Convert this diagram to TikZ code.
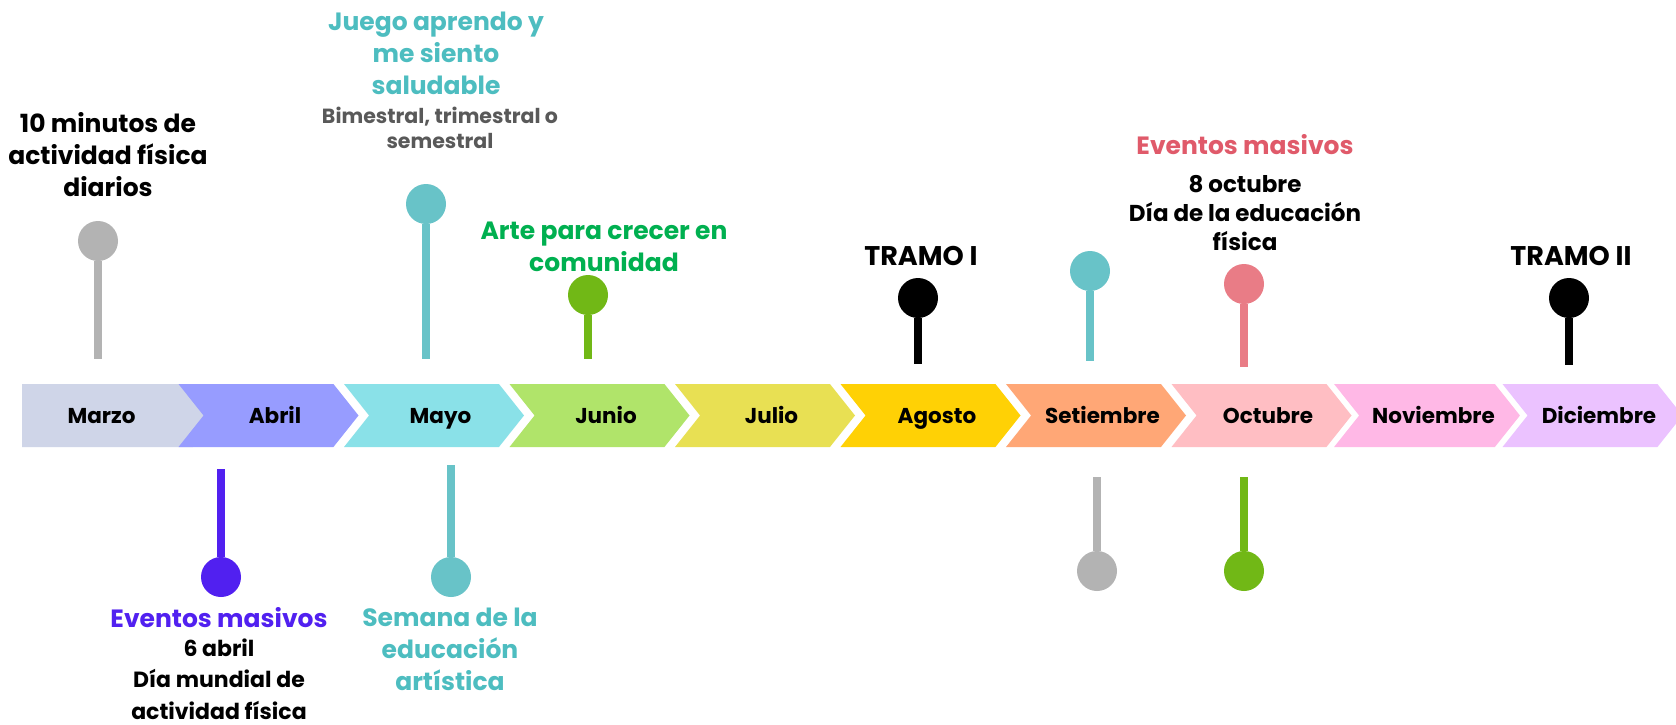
\documentclass[tikz,border=0pt]{standalone}
\usepackage{fontspec}
\setmainfont{Poppins}
\usetikzlibrary{shapes.symbols,positioning}

\definecolor{mMarzo}{HTML}{CFD5E8}
\definecolor{mAbril}{HTML}{979CFF}
\definecolor{mMayo}{HTML}{8AE1E8}
\definecolor{mJunio}{HTML}{B0E46A}
\definecolor{mJulio}{HTML}{E8E053}
\definecolor{mAgosto}{HTML}{FFD105}
\definecolor{mSetiembre}{HTML}{FFA776}
\definecolor{mOctubre}{HTML}{FFBEC3}
\definecolor{mNoviembre}{HTML}{FFB8E6}
\definecolor{mDiciembre}{HTML}{EBC2FF}
\definecolor{pGray}{HTML}{B3B3B3}
\definecolor{pTeal}{HTML}{68C3C8}
\definecolor{pGreen}{HTML}{71B816}
\definecolor{pPink}{HTML}{E97C86}
\definecolor{pPurple}{HTML}{5120F0}
\definecolor{tTeal}{HTML}{4DBDC0}
\definecolor{tGreen}{HTML}{00B050}
\definecolor{tPink}{HTML}{E05A6A}
\definecolor{tGray}{HTML}{595959}

\tikzset{
  month/.style={signal, signal to=east, signal from=west, signal pointer angle=103,
    minimum width=180pt, minimum height=63pt, inner sep=0pt, draw=none,
    text height=17pt, text depth=2pt,
    font=\bfseries\fontsize{21.5}{21.5}\selectfont},
  pindot/.style={circle, minimum size=40pt, inner sep=0pt},
  pinstem/.style={line width=8.5pt},
  note/.style={align=center, font=\bfseries\fontsize{25}{32}\selectfont},
  small note/.style={align=center, font=\bfseries\fontsize{22}{30}\selectfont},
}

\begin{document}
\begin{tikzpicture}[x=1pt,y=-1pt]
  \useasboundingbox[fill=white] (0,0) rectangle (1676,724); %Canvas

  \node[month, fill=mMarzo, signal from=nowhere, minimum width=196pt] (marzo) at (107.5,415.5) {Marzo\hspace*{12pt}}; %First month
  \node[month, fill=mAbril] (abril) at (268.5,415.5) {\hspace*{13pt}Abril};
  \node[month, fill=mMayo] (mayo) at (434,415.5) {\hspace*{13pt}Mayo};
  \node[month, fill=mJunio] (junio) at (599.5,415.5) {\hspace*{13pt}Junio};
  \node[month, fill=mJulio] (julio) at (765,415.5) {\hspace*{13pt}Julio};
  \node[month, fill=mAgosto] (agosto) at (930.5,415.5) {\hspace*{13pt}Agosto};
  \node[month, fill=mSetiembre] (setiembre) at (1096,415.5) {\hspace*{13pt}Setiembre};
  \node[month, fill=mOctubre] (octubre) at (1261.5,415.5) {\hspace*{13pt}Octubre};
  \node[month, fill=mNoviembre] (noviembre) at (1427,415.5) {\hspace*{13pt}Noviembre};
  \node[month, fill=mDiciembre] (diciembre) at (1592.5,415.5) {\hspace*{13pt}Diciembre}; %Last month

  \node[pindot, fill=pGray] (minutos) at (98,241) {}; %Pin marzo
  \coordinate (minutosend) at (98,359);
  \draw[pinstem, pGray] (minutos) -- (minutosend);

  \node[pindot, fill=pTeal] (juego) at (426,204) {}; %Pin mayo
  \coordinate (juegoend) at (426,359);
  \draw[pinstem, pTeal] (juego) -- (juegoend);

  \node[pindot, fill=pGreen] (arte) at (588,295) {}; %Pin junio
  \coordinate (arteend) at (588,359);
  \draw[pinstem, pGreen] (arte) -- (arteend);

  \node[pindot, fill=black] (tramoi) at (918,298) {}; %Pin tramo I
  \coordinate (tramoiend) at (918,364);
  \draw[pinstem, black] (tramoi) -- (tramoiend);

  \node[pindot, fill=pTeal] (setpin) at (1090,271) {}; %Pin setiembre
  \coordinate (setpinend) at (1090,361);
  \draw[pinstem, pTeal] (setpin) -- (setpinend);

  \node[pindot, fill=pPink] (octpin) at (1244,284) {}; %Pin octubre
  \coordinate (octpinend) at (1244,367);
  \draw[pinstem, pPink] (octpin) -- (octpinend);

  \node[pindot, fill=black] (tramoii) at (1569,298) {}; %Pin tramo II
  \coordinate (tramoiiend) at (1569,365);
  \draw[pinstem, black] (tramoii) -- (tramoiiend);

  \node[pindot, fill=pPurple] (abrpin) at (221,577) {}; %Pin abril below
  \coordinate (abrpinend) at (221,469);
  \draw[pinstem, pPurple] (abrpin) -- (abrpinend);

  \node[pindot, fill=pTeal] (semana) at (451,577) {}; %Pin mayo below
  \coordinate (semanaend) at (451,465);
  \draw[pinstem, pTeal] (semana) -- (semanaend);

  \node[pindot, fill=pGray] (setlow) at (1097,571) {}; %Pin setiembre below
  \coordinate (setlowend) at (1097,477);
  \draw[pinstem, pGray] (setlow) -- (setlowend);

  \node[pindot, fill=pGreen] (octlow) at (1244,571) {}; %Pin octubre below
  \coordinate (octlowend) at (1244,477);
  \draw[pinstem, pGreen] (octlow) -- (octlowend);

  \node[note] (minutostxt) at (108,155) {10 minutos de\\actividad física\\diarios};
  \node[note, text=tTeal] (juegotxt) at (436,53) {Juego aprendo y\\me siento\\saludable};
  \node[small note, text=tGray, font=\bfseries\fontsize{20.5}{25}\selectfont] (bimtxt) at (440,127.5) {Bimestral, trimestral o\\semestral};
  \node[note, text=tGreen] (artetxt) at (604,246.5) {Arte para crecer en\\comunidad};
  \node[note, font=\bfseries\fontsize{27}{32}\selectfont] (tramoitxt) at (921,256) {TRAMO I};
  \node[note, text=tPink] (octevtxt) at (1245,145) {Eventos masivos};
  \node[small note, font=\bfseries\fontsize{23}{29}\selectfont] (octdiatxt) at (1245,213) {8 octubre\\Día de la educación\\física};
  \node[note, font=\bfseries\fontsize{27}{32}\selectfont] (tramoiitxt) at (1571,256) {TRAMO II};
  \node[note, text=pPurple] (abrevtxt) at (219,618) {Eventos masivos};
  \node[small note, font=\bfseries\fontsize{22}{31.5}\selectfont] (abrdiatxt) at (219,679) {6 abril\\Día mundial de\\actividad física};
  \node[note, text=tTeal] (semanatxt) at (450,649) {Semana de la\\educación\\artística};
\end{tikzpicture}
\end{document}
